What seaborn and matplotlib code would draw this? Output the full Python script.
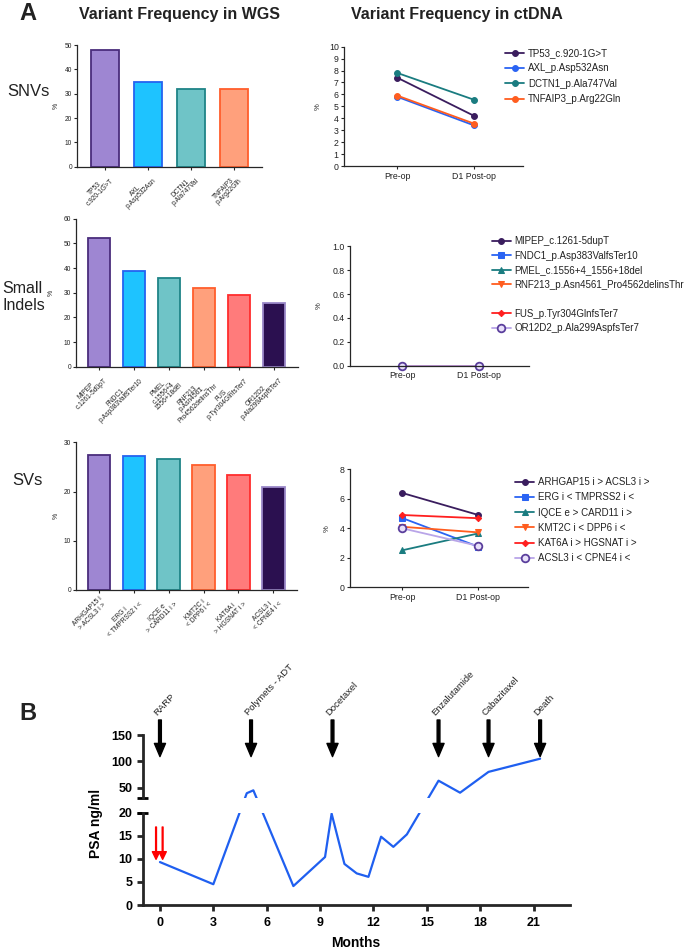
import numpy as np
import pandas as pd
import matplotlib
matplotlib.use('Agg')
import matplotlib.pyplot as plt
import seaborn as sns

# ---------------- data ----------------
snv_labels = ['TP53_\nc.920-1G>T', 'AXL_\np.Asp532Asn', 'DCTN1_\np.Ala747Val', 'TNFAIP3_\np.Arg22Gln']
snv_wgs = [48, 35, 32, 32]

indel_labels = ['MIPEP_\nc.1261-5dupT', 'FNDC1_\np.Asp383ValfsTer10', 'PMEL_\nc.1556+4_\n1556+18del',
                'RNF213_\np.Asn4561_\nPro4562delinsThr', 'FUS_\np.Tyr304GlnfsTer7', 'OR12D2_\np.Ala299AspfsTer7']
indel_wgs = [52, 39, 36, 32, 29, 26]

sv_labels = ['ARHGAP15 i\n> ACSL3 i >', 'ERG i\n< TMPRSS2 i <', 'IQCE e\n> CARD11 i >',
             'KMT2C i\n< DPP6 i <', 'KAT6A i\n> HGSNAT i >', 'ACSL3 i\n< CPNE4 i <']
sv_wgs = [27.4, 27.3, 26.6, 25.3, 23.4, 20.9]

timepoints = ['Pre-op', 'D1 Post-op']

snv_ct_names = ['TP53_c.920-1G>T', 'AXL_p.Asp532Asn', 'DCTN1_p.Ala747Val', 'TNFAIP3_p.Arg22Gln']
snv_ct_pre = [7.4, 5.8, 7.8, 5.9]
snv_ct_post = [4.2, 3.4, 5.55, 3.55]

indel_ct_names = ['MIPEP_c.1261-5dupT', 'FNDC1_p.Asp383ValfsTer10', 'PMEL_c.1556+4_1556+18del',
                  'RNF213_p.Asn4561_Pro4562delinsThr', 'FUS_p.Tyr304GlnfsTer7', 'OR12D2_p.Ala299AspfsTer7']
indel_ct_pre = [0, 0, 0, 0, 0, 0]
indel_ct_post = [0, 0, 0, 0, 0, 0]

sv_ct_names = ['ARHGAP15 i > ACSL3 i >', 'ERG i < TMPRSS2 i <', 'IQCE e > CARD11 i >',
               'KMT2C i < DPP6 i <', 'KAT6A i > HGSNAT i >', 'ACSL3 i < CPNE4 i <']
sv_ct_pre = [6.4, 4.7, 2.5, 4.1, 4.9, 4.0]
sv_ct_post = [4.9, 2.75, 3.65, 3.72, 4.68, 2.8]

psa_months = [0, 3, 4.88, 5.25, 7.5, 9.28, 9.65, 10.37, 11.06, 11.72, 12.43, 13.12, 13.88, 15.66, 16.87, 18.47, 21.37]
psa_values = [9.3, 4.5, 39.5, 45, 4.1, 10.4, 19.8, 8.9, 6.85, 6.1, 14.8, 12.6, 15.3, 63.3, 40.5, 80, 105]

events = ['RARP', 'Polymets - ADT', 'Docetaxel', 'Enzalutamide', 'Cabazitaxel', 'Death']
event_months = [0, 5.12, 9.7, 15.66, 18.47, 21.37]
draw_months = [-0.22, 0.15]

# ---------------- style ----------------
sns.set_style('ticks')
plt.rcParams['font.family'] = ['Liberation Sans', 'DejaVu Sans']
TXT = '#222222'

bar_face = ['#9e86d2', '#1ec3ff', '#6fc4c7', '#ffa07c', '#ff7b7b', '#2b1050']
bar_edge = ['#4a2d7c', '#2463f0', '#1f8487', '#ff5e2c', '#ff2d2d', '#9a88c8']

c_dpur, c_blue, c_teal, c_orng, c_red = '#3a1d5e', '#2a63f3', '#1a7c80', '#ff5d1f', '#ff1f1f'
lav_line, lav_edge = '#b9a5e8', '#5a3e9c'

W, H = 685, 949
fig = plt.figure(figsize=(W / 100, H / 100), dpi=100)


def add_ax(x0, y0, x1, y1):
    return fig.add_axes([x0 / W, 1 - y1 / H, (x1 - x0) / W, (y1 - y0) / H])


def bar_panel(box, labels, vals, ymax, yticks, xlim, ylab_dx):
    ax = add_ax(*box)
    n = len(labels)
    df = pd.DataFrame({'variant': labels, 'pct': vals})
    sns.barplot(data=df, x='variant', y='pct', hue='variant', palette=bar_face[:n], legend=False,
                ax=ax, width=0.65, saturation=1, linewidth=1.3)
    for p, ec in zip(ax.patches, bar_edge[:n]):
        p.set_edgecolor(ec)
    ax.set_xlim(*xlim)
    ax.set_ylim(0, ymax)
    ax.set_yticks(yticks)
    ax.set_xticks(range(n))
    ax.set_xticklabels(labels, rotation=45, ha='right', rotation_mode='anchor',
                       multialignment='center', fontsize=4.8, linespacing=1.0, color=TXT)
    ax.tick_params(axis='x', length=2.5, width=0.8, pad=1.5)
    ax.tick_params(axis='y', length=2.5, width=0.8, pad=1, labelsize=4.8, labelcolor=TXT)
    ax.set_xlabel('')
    ax.set_ylabel('%', fontsize=5, color=TXT)
    bw = box[2] - box[0]
    ax.yaxis.set_label_coords(-ylab_dx / bw, 0.5)
    for s in ['top', 'right']:
        ax.spines[s].set_visible(False)
    for s in ['left', 'bottom']:
        ax.spines[s].set_linewidth(0.9)
    return ax


def line_panel(box, names, pre, post, colors, markers, ymax, yticks, xlim, ylab_dx, yfmt=None):
    ax = add_ax(*box)
    for i, (nm, a, b) in enumerate(zip(names, pre, post)):
        c = colors[i]
        mk = markers[i]
        if mk == 'open':
            sns.lineplot(x=[0, 1], y=[a, b], ax=ax, color=lav_line, lw=1.3, marker='o', markersize=5.5,
                         markerfacecolor='#e8e0fa', markeredgecolor=lav_edge, markeredgewidth=1.3,
                         label=nm, clip_on=False, estimator=None)
        else:
            ms = 3.2 if mk == 'D' else 4.2
            sns.lineplot(x=[0, 1], y=[a, b], ax=ax, color=c, lw=1.3, marker=mk, markersize=ms,
                         markeredgecolor=c, markerfacecolor=c, label=nm, clip_on=False, estimator=None)
    ax.set_xlim(*xlim)
    ax.set_ylim(0, ymax)
    ax.set_yticks(yticks)
    if yfmt:
        ax.set_yticklabels([yfmt.format(t) for t in yticks])
    ax.set_xticks([0, 1])
    ax.set_xticklabels(timepoints)
    ax.tick_params(axis='both', length=2.5, width=0.8, pad=1.5, labelsize=6.3, labelcolor=TXT)
    ax.set_xlabel('')
    ax.set_ylabel('%', fontsize=5.5, color=TXT)
    bw = box[2] - box[0]
    ax.yaxis.set_label_coords(-ylab_dx / bw, 0.5)
    for s in ['top', 'right']:
        ax.spines[s].set_visible(False)
    for s in ['left', 'bottom']:
        ax.spines[s].set_linewidth(0.9)
    h, l = ax.get_legend_handles_labels()
    if ax.get_legend() is not None:
        ax.get_legend().remove()
    return ax, h, l


# ---------------- panel A: titles ----------------
fig.text(28 / W, 1 - 14 / H, 'A', fontsize=17, fontweight='bold', ha='center', va='center', color=TXT)
fig.text(179 / W, 1 - 14 / H, 'Variant Frequency in WGS', fontsize=11.5, fontweight='bold', ha='center',
         va='center', color=TXT)
fig.text(457 / W, 1 - 14 / H, 'Variant Frequency in ctDNA', fontsize=11.5, fontweight='bold', ha='center',
         va='center', color=TXT)
fig.text(28 / W, 1 - 92 / H, 'SNVs', fontsize=12, ha='center', va='center', color=TXT)
fig.text(2 / W, 1 - 297 / H, 'Small\nIndels', fontsize=11.5, ha='left', va='center', color=TXT,
         linespacing=1.2)
fig.text(27.5 / W, 1 - 480 / H, 'SVs', fontsize=12, ha='center', va='center', color=TXT)

# ---------------- panel A: bars ----------------
bar_panel((77, 45, 262, 166.7), snv_labels, snv_wgs, 50, range(0, 51, 10), (-0.66, 3.66), 17)
bar_panel((76, 218.7, 297.7, 366.7), indel_labels, indel_wgs, 60, range(0, 61, 10), (-0.66, 5.68), 21)
bar_panel((76, 442.3, 297, 590), sv_labels, sv_wgs, 30, range(0, 31, 10), (-0.66, 5.68), 16)

# ---------------- panel A: lines ----------------
ax, h, l = line_panel((344.3, 46.7, 523.3, 166), snv_ct_names, snv_ct_pre, snv_ct_post,
                      [c_dpur, c_blue, c_teal, c_orng], ['o', 'o', 'o', 'o'],
                      10, range(0, 11), (-0.69, 1.64), 23)
ax.legend(h, l, loc='upper left', bbox_to_anchor=(505 / W, 1 - 48 / H), bbox_transform=fig.transFigure,
          frameon=False, fontsize=7, handlelength=2.0, handletextpad=0.35, labelspacing=0.55,
          borderpad=0, borderaxespad=0, labelcolor=TXT)

ax, h, l = line_panel((350, 246.3, 529, 365.7), indel_ct_names, indel_ct_pre, indel_ct_post,
                      [c_dpur, c_blue, c_teal, c_orng, c_red, None], ['o', 's', '^', 'v', 'D', 'open'],
                      1.0, [0, 0.2, 0.4, 0.6, 0.8, 1.0], (-0.685, 1.66), 27, '{:.1f}')
spacer = matplotlib.lines.Line2D([], [], linestyle='none')
h = h[:4] + [spacer] + h[4:]
l = l[:4] + [' '] + l[4:]
ax.legend(h, l, loc='upper left', bbox_to_anchor=(491.7 / W, 1 - 236 / H), bbox_transform=fig.transFigure,
          frameon=False, fontsize=7, handlelength=2.0, handletextpad=0.35, labelspacing=0.47,
          borderpad=0, borderaxespad=0, labelcolor=TXT)

ax, h, l = line_panel((350, 469.3, 528, 587.2), sv_ct_names, sv_ct_pre, sv_ct_post,
                      [c_dpur, c_blue, c_teal, c_orng, c_red, None], ['o', 's', '^', 'v', 'D', 'open'],
                      8, range(0, 9, 2), (-0.68, 1.65), 19)
ax.legend(h, l, loc='upper left', bbox_to_anchor=(515 / W, 1 - 477 / H), bbox_transform=fig.transFigure,
          frameon=False, fontsize=7, handlelength=2.0, handletextpad=0.35, labelspacing=0.54,
          borderpad=0, borderaxespad=0, labelcolor=TXT)

# ---------------- panel B: PSA with broken axis ----------------
BRK_LO, BRK_HI, GAP, K = 20.0, 31.0, 3.25, 0.1142


def fwd(y):
    y = np.asarray(y, dtype=float)
    return np.where(y <= BRK_LO, y,
                    np.where(y >= BRK_HI, BRK_LO + GAP + (y - BRK_HI) * K,
                             BRK_LO + (y - BRK_LO) / (BRK_HI - BRK_LO) * GAP))


def inv(t):
    t = np.asarray(t, dtype=float)
    return np.where(t <= BRK_LO, t,
                    np.where(t >= BRK_LO + GAP, BRK_HI + (t - BRK_LO - GAP) / K,
                             BRK_LO + (t - BRK_LO) / GAP * (BRK_HI - BRK_LO)))


fig.text(28 / W, 1 - 713 / H, 'B', fontsize=17, fontweight='bold', ha='center', va='center', color=TXT)

ax_lo = add_ax(142.7, 812.7, 570, 905)
ax_hi = add_ax(142.7, 735, 570, 797.7)
psa_df = pd.DataFrame({'month': psa_months, 'psa': psa_values})
for a in (ax_lo, ax_hi):
    a.set_yscale('function', functions=(fwd, inv))
    sns.lineplot(data=psa_df, x='month', y='psa', ax=a, color='#1f5ff0', lw=1.6, estimator=None, sort=False)
    a.set_xlim(-0.97, 23.05)
    a.set_xlabel('')
    a.set_ylabel('')
    for s in ['top', 'right']:
        a.spines[s].set_visible(False)
    a.spines['left'].set_linewidth(2.0)
    a.spines['bottom'].set_linewidth(2.0)

ax_lo.set_ylim(0, 20)
ax_lo.set_yticks([0, 5, 10, 15, 20])
ax_lo.set_xticks(range(0, 22, 3))
ax_lo.tick_params(axis='both', width=2, length=4.3, pad=3, labelsize=9, labelcolor='black')
ax_lo.tick_params(axis='x', pad=4.5)
for t in ax_lo.get_xticklabels() + ax_lo.get_yticklabels():
    t.set_fontweight('bold')

ax_hi.set_ylim(31, 150)
ax_hi.set_yticks([50, 100, 150])
ax_hi.spines['bottom'].set_visible(False)
ax_hi.set_xticks([])
ax_hi.tick_params(axis='y', width=2, length=4.3, pad=3, labelsize=9, labelcolor='black')
for t in ax_hi.get_yticklabels():
    t.set_fontweight('bold')

# break caps
wfr = 5.6 / (570 - 142.7)
ax_lo.plot([-wfr, wfr], [1, 1], transform=ax_lo.transAxes, color='black', lw=2, clip_on=False,
           solid_capstyle='butt')
ax_hi.plot([-wfr, wfr], [0, 0], transform=ax_hi.transAxes, color='black', lw=2, clip_on=False,
           solid_capstyle='butt')

# treatment arrows and labels
for m, lab in zip(event_months, events):
    ax_hi.annotate('', xy=(m, 109), xytext=(m, 178.5), xycoords='data',
                   arrowprops=dict(facecolor='black', edgecolor='black', width=2.0, headwidth=8,
                                   headlength=9.5, shrink=0), annotation_clip=False)
    ax_hi.annotate(lab, xy=(m, 178.5), xytext=(-1.0, 2), textcoords='offset points', rotation=47,
                   rotation_mode='anchor', ha='left', va='bottom', fontsize=6.8, color=TXT,
                   annotation_clip=False)

# red blood-draw arrows
for m in draw_months:
    ax_lo.annotate('', xy=(m, 9.9), xytext=(m, 16.9), xycoords='data',
                   arrowprops=dict(facecolor='red', edgecolor='red', width=0.6, headwidth=5.3,
                                   headlength=5.5, shrink=0), annotation_clip=False)

fig.text(96 / W, 1 - 823 / H, 'PSA ng/ml', rotation=90, fontsize=10, fontweight='bold', ha='center',
         va='center', color='black')
fig.text(356 / W, 1 - 943 / H, 'Months', fontsize=10, fontweight='bold', ha='center', va='center',
         color='black')

fig.savefig('out.png', dpi=100)
